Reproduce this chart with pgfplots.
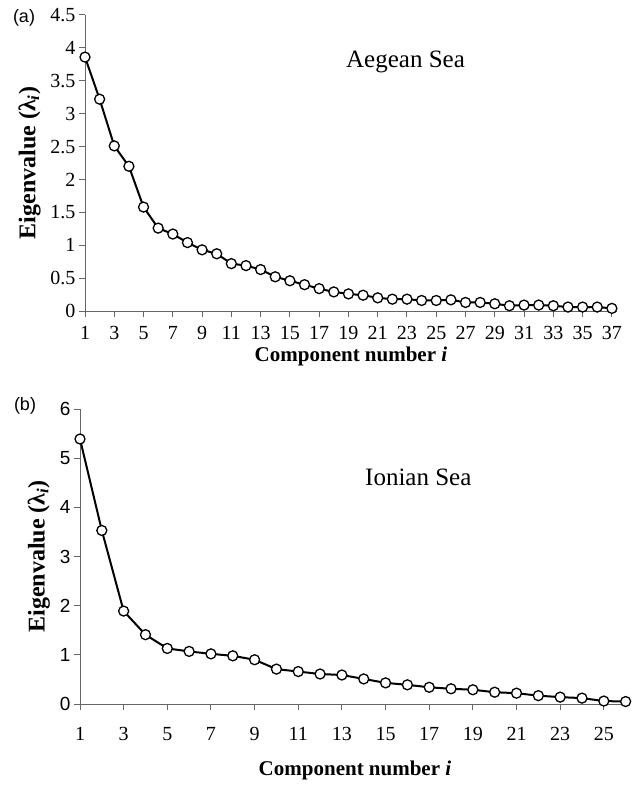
\documentclass[border=0pt]{standalone}
\usepackage{fontspec}
\setmainfont{Liberation Serif}
\newfontfamily\arial{Liberation Sans}
\usepackage{pgfplots}
\pgfplotsset{compat=1.18}
\pgfplotstableread{
i lam
1 3.86
2 3.22
3 2.51
4 2.20
5 1.58
6 1.26
7 1.17
8 1.04
9 0.93
10 0.87
11 0.72
12 0.69
13 0.63
14 0.52
15 0.46
16 0.40
17 0.34
18 0.29
19 0.26
20 0.24
21 0.20
22 0.18
23 0.18
24 0.16
25 0.16
26 0.17
27 0.13
28 0.13
29 0.11
30 0.08
31 0.09
32 0.09
33 0.08
34 0.06
35 0.06
36 0.06
37 0.04
}\aegean
\pgfplotstableread{
i lam
1 5.39
2 3.53
3 1.89
4 1.41
5 1.13
6 1.07
7 1.02
8 0.98
9 0.90
10 0.71
11 0.66
12 0.61
13 0.59
14 0.51
15 0.43
16 0.39
17 0.34
18 0.31
19 0.29
20 0.24
21 0.22
22 0.17
23 0.14
24 0.12
25 0.06
26 0.05
}\ionian
\pgfplotsset{
  eig/.style={
    scale only axis,
    anchor=south west,
    axis lines*=left,
    axis line style={gray!80!black, line width=1pt},
    tick style={gray!80!black, line width=1pt},
    tick align=outside,
    major tick length=6pt,
    /pgf/number format/assume math mode=true,
    ticklabel style={font=\fontsize{20}{24}\selectfont},
    xlabel style={font=\fontsize{21}{25}\selectfont\bfseries},
    ylabel style={font=\fontsize{24}{28}\selectfont\bfseries},
    clip=false,
  },
  eigline/.style={black, line width=2pt, mark=*, mark size=5pt,
    mark options={fill=white, draw=black, line width=1.3pt}},
}
\begin{document}
\begin{tikzpicture}
\useasboundingbox (0pt,0pt) rectangle (635pt,-786pt);
% Panel (a)
\begin{axis}[eig,
  at={(85pt,-311pt)},
  width=532pt, height=296pt,
  xmin=1, xmax=37.35, ymin=0, ymax=4.5,
  xtick={1,3,...,37},
  ytick={0,0.5,...,4.5},
  yticklabels={0,0.5,1,1.5,2,2.5,3,3.5,4,4.5},
  xticklabel style={yshift=-6pt},
  xlabel={Component number \textit{i}},
  ylabel={Eigenvalue (λ\textsubscript{\textit{i}})},
  xlabel style={yshift=0pt},
  ylabel style={yshift=3pt},
]
\addplot[eigline] table[x=i, y=lam] {\aegean};
\node[font=\fontsize{25}{30}\selectfont] at (axis cs:22.9,3.79) {Aegean Sea};
\end{axis}
\node[font=\arial\fontsize{18}{22}\selectfont] at (24pt,-18pt) {(a)};
% Panel (b)
\begin{axis}[eig,
  at={(80pt,-704pt)},
  width=550pt, height=295pt,
  xmin=1, xmax=26.2, ymin=0, ymax=6,
  xtick={1,3,...,25},
  ytick={0,1,...,6},
  yticklabel style={font=\arial\fontsize{19}{22}\selectfont},
  xticklabel style={yshift=-14pt},
  xlabel={Component number \textit{i}},
  ylabel={Eigenvalue (λ\textsubscript{\textit{i}})},
  xlabel style={yshift=-13pt},
  ylabel style={yshift=3pt},
]
\addplot[eigline] table[x=i, y=lam] {\ionian};
\node[font=\fontsize{25}{30}\selectfont] at (axis cs:16.5,4.62) {Ionian Sea};
\end{axis}
\node[font=\arial\fontsize{18}{22}\selectfont] at (25pt,-406pt) {(b)};
\end{tikzpicture}
\end{document}
